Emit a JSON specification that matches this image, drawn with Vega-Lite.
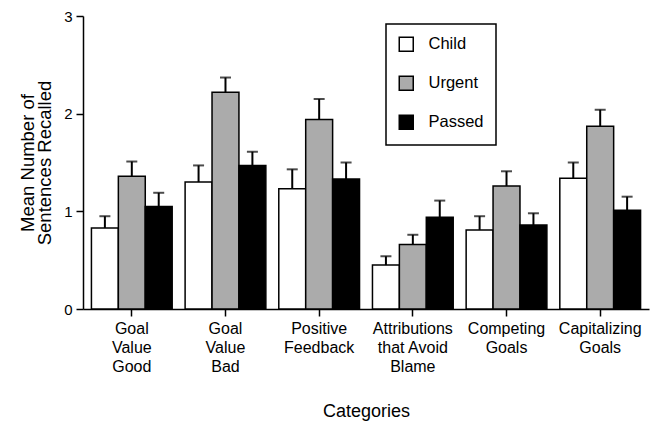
{
  "$schema": "https://vega.github.io/schema/vega-lite/v6.json",
  "autosize": {"type": "none"},
  "padding": {"left": 83, "top": 16, "right": 1, "bottom": 116},
  "width": 566,
  "height": 293,
  "background": "white",
  "config": {
    "view": {"stroke": null},
    "font": "Liberation Sans",
    "axis": {"domainColor": "black", "domainWidth": 1.5, "tickColor": "black", "tickWidth": 1.5, "labelColor": "black", "titleColor": "black", "grid": false, "titleFontWeight": "normal"}
  },
  "data": {
    "values": [
      {"category": "Goal|Value|Good", "group": "Child", "value": 0.83, "upper": 0.95},
      {"category": "Goal|Value|Good", "group": "Urgent", "value": 1.36, "upper": 1.51},
      {"category": "Goal|Value|Good", "group": "Passed", "value": 1.05, "upper": 1.19},
      {"category": "Goal|Value|Bad", "group": "Child", "value": 1.30, "upper": 1.47},
      {"category": "Goal|Value|Bad", "group": "Urgent", "value": 2.22, "upper": 2.37},
      {"category": "Goal|Value|Bad", "group": "Passed", "value": 1.47, "upper": 1.61},
      {"category": "Positive|Feedback", "group": "Child", "value": 1.23, "upper": 1.43},
      {"category": "Positive|Feedback", "group": "Urgent", "value": 1.94, "upper": 2.15},
      {"category": "Positive|Feedback", "group": "Passed", "value": 1.33, "upper": 1.50},
      {"category": "Attributions|that Avoid|Blame", "group": "Child", "value": 0.45, "upper": 0.54},
      {"category": "Attributions|that Avoid|Blame", "group": "Urgent", "value": 0.66, "upper": 0.76},
      {"category": "Attributions|that Avoid|Blame", "group": "Passed", "value": 0.94, "upper": 1.11},
      {"category": "Competing|Goals", "group": "Child", "value": 0.81, "upper": 0.95},
      {"category": "Competing|Goals", "group": "Urgent", "value": 1.26, "upper": 1.41},
      {"category": "Competing|Goals", "group": "Passed", "value": 0.86, "upper": 0.98},
      {"category": "Capitalizing|Goals", "group": "Child", "value": 1.34, "upper": 1.50},
      {"category": "Capitalizing|Goals", "group": "Urgent", "value": 1.87, "upper": 2.04},
      {"category": "Capitalizing|Goals", "group": "Passed", "value": 1.01, "upper": 1.15}
    ]
  },
  "encoding": {
    "x": {
      "field": "category", "type": "nominal", "sort": null,
      "scale": {"paddingInner": 0.138, "paddingOuter": 0.09},
      "axis": {"labelAngle": 0, "labelExpr": "split(datum.label, '|')", "labelFontSize": 16, "labelLineHeight": 19, "labelPadding": 4, "tickSize": 7, "title": "Categories", "titleFontSize": 18, "titlePadding": 28, "labelLimit": 200}
    },
    "xOffset": {"field": "group", "type": "nominal", "sort": ["Child", "Urgent", "Passed"], "scale": {"paddingInner": 0, "paddingOuter": 0}}
  },
  "layer": [
    {
      "mark": {"type": "bar", "stroke": "black", "strokeWidth": 1.5},
      "encoding": {
        "y": {
          "field": "value", "type": "quantitative",
          "scale": {"domain": [0, 3], "nice": false},
          "axis": {"values": [0, 1, 2, 3], "format": "d", "labelFontSize": 15, "tickSize": 7, "labelPadding": 4, "title": ["Mean Number of", "Sentences Recalled"], "titleFontSize": 18.5, "titleLineHeight": 17, "titlePadding": 9}
        },
        "fill": {
          "field": "group", "type": "nominal", "sort": ["Child", "Urgent", "Passed"],
          "scale": {"domain": ["Child", "Urgent", "Passed"], "range": ["#ffffff", "#ababab", "#000000"]},
          "legend": {
            "title": null, "orient": "none", "legendX": 303, "legendY": 8,
            "strokeColor": "black", "padding": 12, "rowPadding": 18,
            "symbolType": "square", "symbolSize": 196, "symbolStrokeColor": "black", "symbolStrokeWidth": 1.5,
            "labelFontSize": 16.5, "labelOffset": 14, "labelColor": "black",
            "encode": {"legend": {"update": {"strokeWidth": {"value": 1.5}}}}
          }
        }
      }
    },
    {
      "mark": {"type": "rule", "color": "black", "strokeWidth": 2},
      "encoding": {
        "y": {"field": "value", "type": "quantitative"},
        "y2": {"field": "upper"}
      }
    },
    {
      "mark": {"type": "tick", "color": "black", "thickness": 2, "size": 11},
      "encoding": {
        "y": {"field": "upper", "type": "quantitative"}
      }
    }
  ]
}
